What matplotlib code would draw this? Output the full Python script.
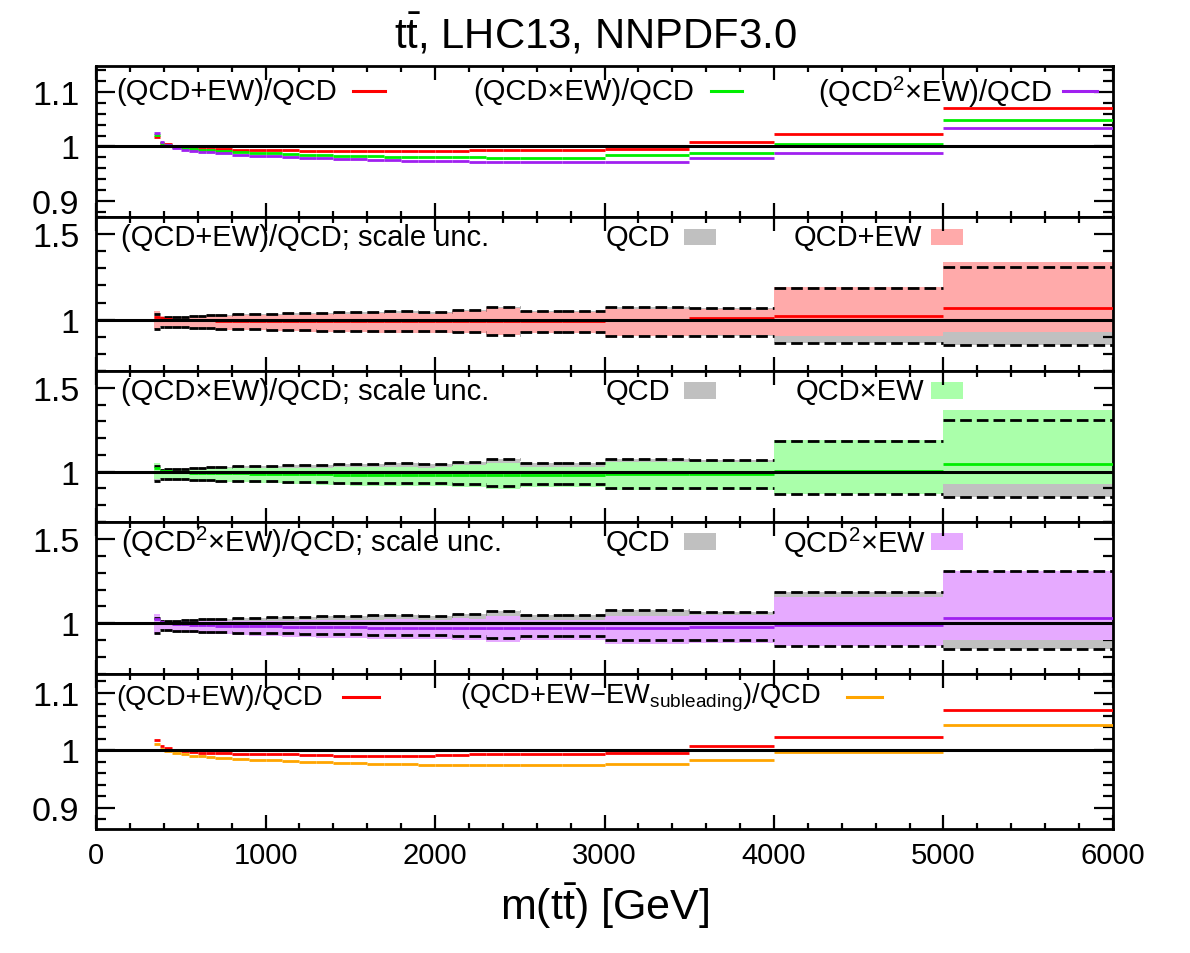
import numpy as np
import matplotlib
matplotlib.use("Agg")
import matplotlib.pyplot as plt
from matplotlib.patches import Rectangle
from matplotlib.ticker import MultipleLocator, FuncFormatter

plt.rcParams['font.family'] = ['Liberation Sans', 'DejaVu Sans']
plt.rcParams['mathtext.default'] = 'regular'

# bin edges in m(tt) [GeV]
edges = [345, 375, 400, 450, 500, 550, 600, 650, 700, 800, 900, 1000, 1100, 1200, 1300,
         1400, 1500, 1600, 1700, 1800, 1900, 2000, 2100, 2200, 2300, 2400, 2500, 2750,
         3000, 3500, 4000, 5000, 6000]

# central ratios
ratio_add = [1.018, 1.007, 1.004, 1.000, 0.998, 0.997, 0.996, 0.996, 0.995, 0.994, 0.994,
             0.993, 0.993, 0.992, 0.992, 0.991, 0.991, 0.991, 0.991, 0.991, 0.991, 0.992,
             0.992, 0.993, 0.994, 0.994, 0.994, 0.994, 0.996, 1.008, 1.023, 1.070]
ratio_mult = [1.021, 1.006, 1.002, 0.999, 0.997, 0.995, 0.994, 0.993, 0.991, 0.990, 0.988,
              0.987, 0.986, 0.985, 0.984, 0.983, 0.982, 0.982, 0.981, 0.981, 0.980, 0.980,
              0.980, 0.980, 0.979, 0.979, 0.979, 0.979, 0.984, 0.988, 1.004, 1.048]
ratio_mult2 = [1.025, 1.008, 1.002, 0.997, 0.994, 0.992, 0.990, 0.989, 0.987, 0.985, 0.983,
               0.982, 0.980, 0.979, 0.978, 0.977, 0.976, 0.975, 0.975, 0.974, 0.973, 0.973,
               0.973, 0.972, 0.972, 0.972, 0.972, 0.971, 0.972, 0.979, 0.988, 1.033]
ratio_nosub = [1.011, 1.003, 0.999, 0.995, 0.993, 0.991, 0.990, 0.988, 0.987, 0.985, 0.984,
               0.983, 0.981, 0.980, 0.979, 0.978, 0.978, 0.977, 0.977, 0.976, 0.975, 0.975,
               0.975, 0.975, 0.975, 0.975, 0.975, 0.975, 0.977, 0.983, 0.997, 1.045]

# QCD scale band (normalised to QCD central)
qcd_up = [1.032, 1.012, 1.014, 1.016, 1.018, 1.020, 1.023, 1.025, 1.028, 1.031, 1.033,
          1.035, 1.037, 1.039, 1.041, 1.043, 1.045, 1.047, 1.050, 1.050, 1.045, 1.046,
          1.058, 1.058, 1.074, 1.074, 1.049, 1.049, 1.076, 1.068, 1.185, 1.307]
qcd_dn = [0.945, 0.958, 0.958, 0.956, 0.955, 0.953, 0.951, 0.949, 0.947, 0.945, 0.943,
          0.942, 0.940, 0.938, 0.936, 0.935, 0.934, 0.933, 0.932, 0.932, 0.932, 0.932,
          0.927, 0.927, 0.913, 0.913, 0.927, 0.927, 0.904, 0.904, 0.865, 0.850]

# QCD+EW scale band
add_up = [1.051, 1.019, 1.018, 1.016, 1.016, 1.017, 1.019, 1.021, 1.023, 1.025, 1.027,
          1.028, 1.030, 1.031, 1.033, 1.034, 1.036, 1.038, 1.041, 1.041, 1.036, 1.038,
          1.050, 1.051, 1.068, 1.068, 1.043, 1.043, 1.062, 1.062, 1.188, 1.335]
add_dn = [0.946, 0.965, 0.962, 0.956, 0.953, 0.950, 0.947, 0.945, 0.942, 0.939, 0.937,
          0.935, 0.933, 0.930, 0.928, 0.927, 0.926, 0.925, 0.924, 0.924, 0.924, 0.925,
          0.920, 0.921, 0.908, 0.908, 0.922, 0.922, 0.902, 0.910, 0.905, 0.928]

# QCDxEW scale band
mult_up = [1.054, 1.018, 1.016, 1.015, 1.015, 1.015, 1.017, 1.018, 1.019, 1.021, 1.021,
           1.022, 1.022, 1.023, 1.024, 1.025, 1.026, 1.028, 1.030, 1.030, 1.024, 1.025,
           1.037, 1.037, 1.051, 1.051, 1.027, 1.027, 1.059, 1.055, 1.188, 1.366]
mult_dn = [0.958, 0.964, 0.960, 0.955, 0.952, 0.948, 0.945, 0.942, 0.938, 0.936, 0.932,
           0.930, 0.927, 0.924, 0.921, 0.919, 0.917, 0.916, 0.914, 0.914, 0.913, 0.913,
           0.908, 0.908, 0.894, 0.894, 0.908, 0.908, 0.890, 0.893, 0.866, 0.924]

# QCD^2xEW scale band
mult2_up = [1.058, 1.020, 1.016, 1.013, 1.012, 1.012, 1.013, 1.014, 1.015, 1.016, 1.015,
            1.016, 1.016, 1.017, 1.018, 1.019, 1.020, 1.021, 1.024, 1.023, 1.017, 1.018,
            1.029, 1.028, 1.044, 1.044, 1.020, 1.019, 1.046, 1.049, 1.158, 1.309]
mult2_dn = [0.938, 0.966, 0.960, 0.953, 0.949, 0.945, 0.941, 0.939, 0.935, 0.931, 0.927,
            0.925, 0.921, 0.918, 0.915, 0.913, 0.912, 0.910, 0.909, 0.908, 0.907, 0.907,
            0.902, 0.901, 0.887, 0.887, 0.901, 0.900, 0.879, 0.885, 0.863, 0.899]

RED = '#ff0000'
GREEN = '#00ee00'
PURPLE = '#a020f0'
ORANGE = '#ffa500'
GREY = '#c0c0c0'
PINK = '#ffaaaa'
LGREEN = '#aaffaa'
LPURPLE = '#e6aaff'

FS = 21
fig = plt.figure(figsize=(11.9, 9.54), dpi=100)
W, H = 1190.0, 954.0
x0, x1 = 96, 1113
panels_px = [(67, 218), (218, 372), (372, 523), (523, 675), (675, 830)]
ylims = [(0.87, 1.148), (0.70, 1.60), (0.70, 1.60), (0.70, 1.60), (0.863, 1.133)]

axes = []
for (top, bot), yl in zip(panels_px, ylims):
    ax = fig.add_axes([x0 / W, 1 - bot / H, (x1 - x0) / W, (bot - top) / H])
    ax.set_xlim(0, 6000)
    ax.set_ylim(*yl)
    ax.xaxis.set_major_locator(MultipleLocator(1000))
    ax.xaxis.set_minor_locator(MultipleLocator(200))
    for s in ax.spines.values():
        s.set_linewidth(2.0)
    ax.tick_params(which='both', direction='in', top=True, right=True, width=1.6)
    ax.tick_params(axis='x', which='major', length=10, pad=9, labelsize=FS)
    ax.tick_params(axis='x', which='minor', length=4.5)
    ax.tick_params(axis='y', which='major', length=14, pad=12, labelsize=24.5)
    ax.tick_params(axis='y', which='minor', length=7)
    ax.yaxis.set_major_formatter(FuncFormatter(lambda v, p: '%g' % round(v, 3)))
    axes.append(ax)

for ax in (axes[0], axes[4]):
    ax.yaxis.set_major_locator(MultipleLocator(0.1))
    ax.yaxis.set_minor_locator(MultipleLocator(0.02))
for ax in axes[1:4]:
    ax.yaxis.set_major_locator(MultipleLocator(0.5))
    ax.yaxis.set_minor_locator(MultipleLocator(0.1))
for ax in axes[:4]:
    ax.tick_params(axis='x', labelbottom=False)

lo = np.array(edges[:-1])
hi = np.array(edges[1:])


def steps(ax, vals, color, lw=2.0, ls='solid', z=3):
    ax.hlines(vals, lo, hi, colors=color, linewidth=lw, linestyles=ls, zorder=z)


def unity(ax):
    ax.axhline(1.0, color='black', linewidth=2.2, zorder=5)


def line_key(ax, text, tx, sx0, sx1, y, color, fs=FS):
    ax.text(tx, y, text, transform=ax.transAxes, fontsize=fs, va='center', ha='left')
    ax.plot([sx0, sx1], [y, y], transform=ax.transAxes, color=color, linewidth=2.2,
            clip_on=False)


def box_key(ax, text, tx, bx0, bx1, y, color):
    ax.text(tx, y, text, transform=ax.transAxes, fontsize=FS, va='center', ha='left')
    ax.add_patch(Rectangle((bx0, y - 0.055), bx1 - bx0, 0.11, transform=ax.transAxes,
                           facecolor=color, edgecolor='none'))


def fx(px):
    return (px - x0) / (x1 - x0)


# panel 1
ax = axes[0]
steps(ax, ratio_add, RED)
steps(ax, ratio_mult, GREEN)
steps(ax, ratio_mult2, PURPLE)
unity(ax)
y = 1 - (92 - 67) / (218 - 67)
line_key(ax, '(QCD+EW)/QCD', fx(116), fx(353), fx(385), y, RED)
line_key(ax, '(QCD×EW)/QCD', fx(473), fx(711), fx(742), y, GREEN)
line_key(ax, '(QCD$^2$×EW)/QCD', fx(818), fx(1063), fx(1097), y, PURPLE)

# panels 2-4: scale uncertainty bands
band_panels = [
    (axes[1], add_up, add_dn, ratio_add, PINK, RED,
     '(QCD+EW)/QCD; scale unc.', 'QCD+EW', 794),
    (axes[2], mult_up, mult_dn, ratio_mult, LGREEN, GREEN,
     '(QCD×EW)/QCD; scale unc.', 'QCD×EW', 796),
    (axes[3], mult2_up, mult2_dn, ratio_mult2, LPURPLE, PURPLE,
     '(QCD$^2$×EW)/QCD; scale unc.', 'QCD$^2$×EW', 783),
]
for ax, up, dn, cen, fcol, lcol, lab, lab2, lx in band_panels:
    ax.stairs(qcd_up, edges, baseline=qcd_dn, fill=True, color=GREY, zorder=1)
    ax.stairs(up, edges, baseline=dn, fill=True, color=fcol, zorder=2)
    steps(ax, qcd_up, 'black', lw=2.0, ls=(0, (4.2, 1.8)), z=3)
    steps(ax, qcd_dn, 'black', lw=2.0, ls=(0, (4.2, 1.8)), z=3)
    steps(ax, cen, lcol, lw=2.0, z=4)
    unity(ax)
    y = 1 - (238 - 218) / (372 - 218)
    ax.text(fx(121), y, lab, transform=ax.transAxes, fontsize=FS, va='center')
    box_key(ax, 'QCD', fx(606), fx(684), fx(716), y, GREY)
    box_key(ax, lab2, fx(lx), fx(931), fx(963), y, fcol)

# panel 5
ax = axes[4]
steps(ax, ratio_add, RED)
steps(ax, ratio_nosub, ORANGE)
unity(ax)
y = 1 - (698 - 675) / (830 - 675)
line_key(ax, '(QCD+EW)/QCD', fx(116), fx(343), fx(379), y, RED, fs=19.6)
line_key(ax, '(QCD+EW−EW$_{subleading}$)/QCD', fx(460), fx(847), fx(882), y, ORANGE,
         fs=19.6)
ax.set_xlabel(r'm($t\bar{t}$) [GeV]', fontsize=31, labelpad=8)

fig.suptitle(r'$t\bar{t}$, LHC13, NNPDF3.0', fontsize=30.2, y=1 - 35 / H, va='center')

plt.savefig('out.png', dpi=100)
